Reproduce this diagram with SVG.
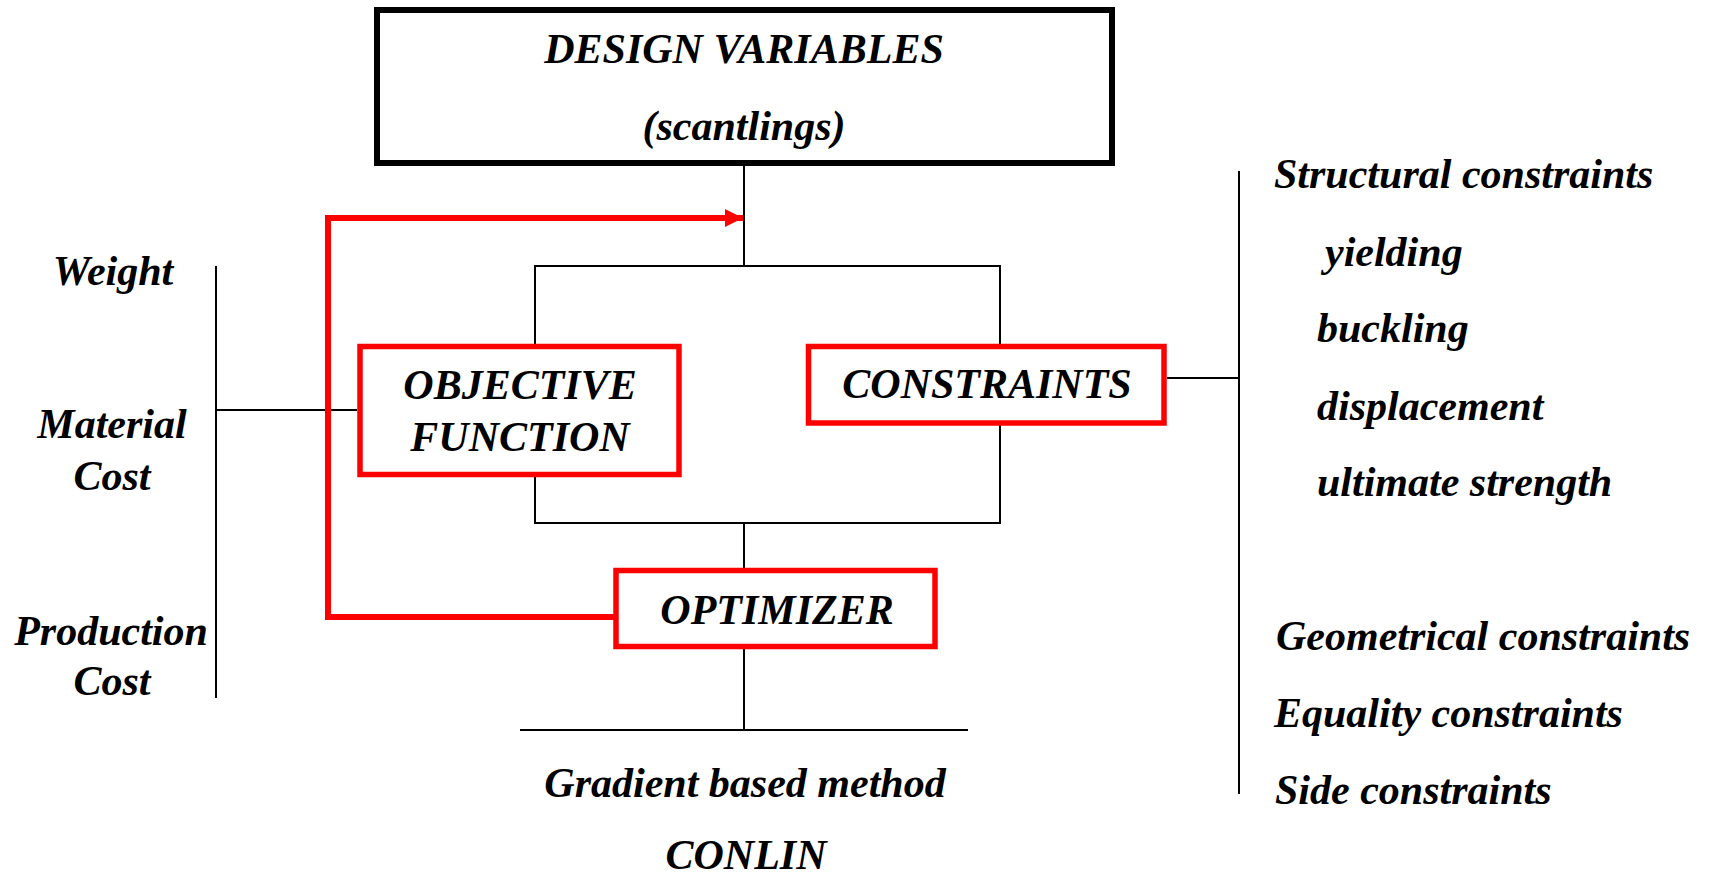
<svg xmlns="http://www.w3.org/2000/svg" width="1715" height="878" viewBox="0 0 1715 878">
<style>
text{font-family:"Liberation Serif","Times New Roman",serif;font-style:italic;font-weight:bold;font-size:42px;fill:#000}
.c{text-anchor:middle}
.blk{fill:none;stroke:#000;stroke-width:2}
.red{fill:none;stroke:#ff0000;stroke-width:6}
.box{fill:#fff;stroke:#ff0000;stroke-width:5.5}
</style>
<defs>
<marker id="ah" viewBox="0 0 18 18" refX="18" refY="9" markerWidth="18" markerHeight="18" markerUnits="userSpaceOnUse" orient="auto">
<path d="M0,0 L18,9 L0,18 Z" fill="#ff0000"/>
</marker>
</defs>
<rect width="1715" height="878" fill="#fff"/>
<g id="connectors">
<path class="blk" d="M744,166 V266"/>
<path class="blk" d="M535,345 V266 H1000 V345"/>
<path class="blk" d="M535,477 V523 H1000 V425"/>
<path class="blk" d="M744,523 V568"/>
<path class="blk" d="M744,649 V730"/>
<path class="blk" d="M520,730 H968"/>
<path class="blk" d="M216,266 V698"/>
<path class="blk" d="M216,410 H357"/>
<path class="blk" d="M1167,378 H1239"/>
<path class="blk" d="M1239,171 V794"/>
<path class="red" d="M614,617 H328 V218 H743" marker-end="url(#ah)"/>
</g>
<g id="design-variables">
<rect x="377" y="10" width="735" height="153" fill="#fff" stroke="#000" stroke-width="6"/>
<text class="c" x="744" y="63">DESIGN VARIABLES</text>
<text class="c" x="744" y="140">(scantlings)</text>
</g>
<g id="objective-function">
<rect class="box" x="360" y="346.5" width="319" height="128"/>
<text class="c" x="520" y="399">OBJECTIVE</text>
<text class="c" x="520" y="451">FUNCTION</text>
</g>
<g id="constraints">
<rect class="box" x="808.5" y="346.5" width="355.5" height="76.5"/>
<text class="c" x="987" y="398">CONSTRAINTS</text>
</g>
<g id="optimizer">
<rect class="box" x="616" y="570.5" width="319" height="76"/>
<text class="c" x="777" y="624">OPTIMIZER</text>
</g>
<g id="objective-list">
<text class="c" x="113" y="285">Weight</text>
<text class="c" x="112" y="438">Material</text>
<text class="c" x="112" y="490">Cost</text>
<text class="c" x="111" y="645">Production</text>
<text class="c" x="112" y="695">Cost</text>
</g>
<g id="constraint-list">
<text x="1274" y="188">Structural constraints</text>
<text x="1325" y="266">yielding</text>
<text x="1317" y="342">buckling</text>
<text x="1317" y="420">displacement</text>
<text x="1317" y="496">ultimate strength</text>
<text x="1276" y="650">Geometrical constraints</text>
<text x="1274" y="727">Equality constraints</text>
<text x="1275" y="804">Side constraints</text>
</g>
<g id="optimizer-methods">
<text class="c" x="745" y="797">Gradient based method</text>
<text class="c" x="746" y="869">CONLIN</text>
</g>
</svg>
